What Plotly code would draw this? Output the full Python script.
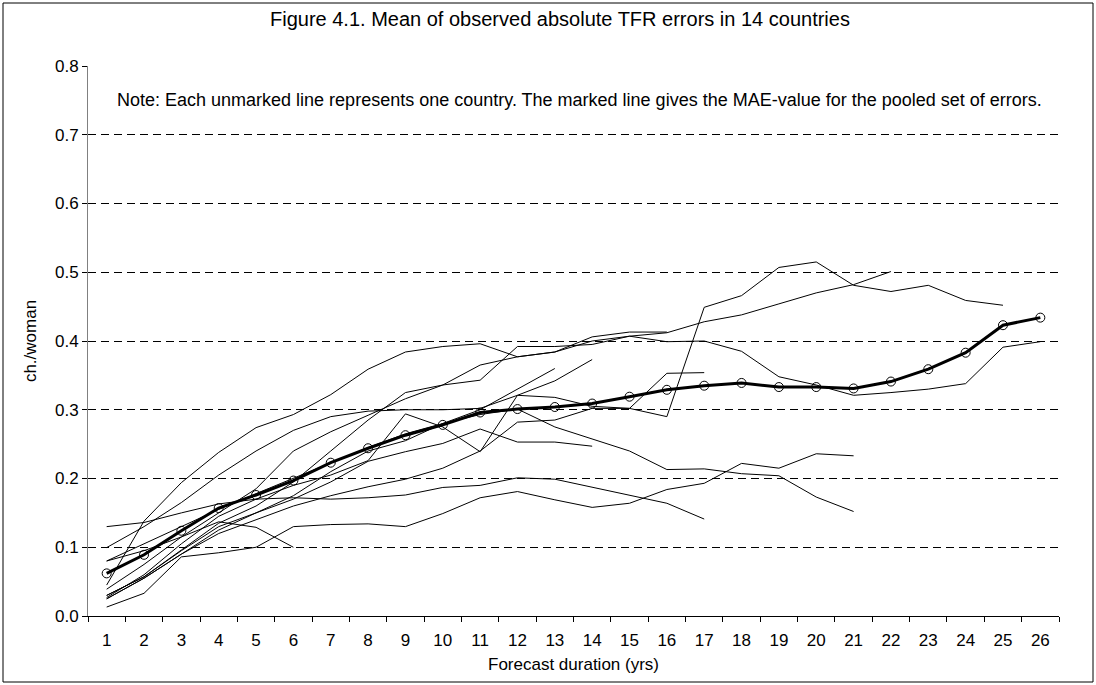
import plotly.graph_objects as go

# forecast duration (years)
durations = list(range(1, 27))

# pooled MAE (marked line)
mae = [0.062, 0.089, 0.124, 0.157, 0.176, 0.197, 0.223, 0.244, 0.263, 0.278, 0.296, 0.301,
       0.304, 0.309, 0.319, 0.329, 0.335, 0.339, 0.333, 0.333, 0.331, 0.341, 0.359, 0.383,
       0.423, 0.434]

# one unmarked line per country (series lengths differ)
country_a = [0.025, 0.055, 0.090, 0.120, 0.140, 0.160, 0.175, 0.188, 0.199, 0.215, 0.240, 0.282,
             0.285, 0.302, 0.302, 0.290, 0.449, 0.466, 0.507, 0.515, 0.481, 0.472, 0.481, 0.459, 0.452]
country_b = [0.030, 0.057, 0.096, 0.135, 0.160, 0.195, 0.240, 0.285, 0.325, 0.336, 0.343, 0.392,
             0.392, 0.395, 0.407, 0.412, 0.428, 0.438, 0.454, 0.470, 0.482, 0.501]
country_c = [0.039, 0.075, 0.115, 0.150, 0.185, 0.240, 0.268, 0.292, 0.316, 0.336, 0.365, 0.377,
             0.384, 0.400, 0.407, 0.399, 0.400, 0.385, 0.348, 0.336, 0.321, 0.325, 0.330, 0.338,
             0.391, 0.399]
country_d = [0.080, 0.105, 0.130, 0.155, 0.178, 0.200, 0.222, 0.245, 0.265, 0.280, 0.293, 0.301,
             0.275, 0.257, 0.240, 0.213, 0.214, 0.207, 0.204, 0.173, 0.152]
country_e = [0.013, 0.033, 0.086, 0.092, 0.100, 0.130, 0.133, 0.134, 0.130, 0.149, 0.172, 0.181,
             0.169, 0.158, 0.164, 0.184, 0.193, 0.222, 0.215, 0.236, 0.233]
country_f = [0.130, 0.136, 0.150, 0.163, 0.170, 0.172, 0.170, 0.172, 0.176, 0.187, 0.190, 0.201,
             0.199, 0.187, 0.176, 0.164, 0.141]
country_g = [0.030, 0.057, 0.095, 0.130, 0.150, 0.170, 0.195, 0.225, 0.239, 0.251, 0.272, 0.253,
             0.253, 0.247]
country_h = [0.025, 0.055, 0.090, 0.125, 0.150, 0.175, 0.210, 0.240, 0.255, 0.280, 0.300, 0.330,
             0.360]
country_i = [0.045, 0.138, 0.194, 0.238, 0.274, 0.293, 0.322, 0.359, 0.384, 0.392, 0.396, 0.377,
             0.384, 0.406, 0.413, 0.413]
country_j = [0.0995, 0.130, 0.165, 0.205, 0.240, 0.270, 0.290, 0.298, 0.300, 0.300, 0.302, 0.321,
             0.342, 0.373]
country_k = [0.027, 0.060, 0.105, 0.145, 0.170, 0.190, 0.205, 0.226, 0.294, 0.275, 0.239, 0.321,
             0.318, 0.305, 0.302, 0.353, 0.354]
country_l = [0.080, 0.095, 0.115, 0.137, 0.129, 0.100]

countries = [country_a, country_b, country_c, country_d, country_e, country_f,
             country_g, country_h, country_i, country_j, country_k, country_l]

yticks = [0.0, 0.1, 0.2, 0.3, 0.4, 0.5, 0.6, 0.7, 0.8]

FONT = "Liberation Sans, Arial, sans-serif"

fig = go.Figure()
for vals in countries:
    fig.add_trace(go.Scatter(x=durations[:len(vals)], y=vals, mode='lines',
                             line=dict(color='black', width=1), hoverinfo='skip'))

fig.add_trace(go.Scatter(x=durations, y=mae, mode='lines+markers',
                         line=dict(color='black', width=3),
                         marker=dict(symbol='circle-open', size=9, color='black',
                                     line=dict(width=1, color='black'))))

# plot area in pixels: x 88..1059, y 66..616
W, H = 1096, 685
L, R, T, B = 88, 37, 66, 69
pw, ph = W - L - R, H - T - B

def px(x):
    return (x - L) / pw

def py(y):
    return (H - B - y) / ph

fig.update_layout(
    width=W, height=H,
    margin=dict(l=L, r=R, t=T, b=B),
    paper_bgcolor='white', plot_bgcolor='white',
    showlegend=False,
    font=dict(family=FONT, size=17, color='black'),
    xaxis=dict(range=[0.5, 26.5], tickvals=durations, ticktext=[str(d) for d in durations],
               ticks='', showgrid=False, zeroline=False, ticklabelstandoff=9,
               showline=True, linecolor='black', linewidth=1,
               minor=dict(tickvals=[d + 0.5 for d in range(0, 27)], ticks='outside',
                          ticklen=5, tickcolor='black', showgrid=False),
               title=dict(text='Forecast duration (yrs)', font=dict(size=17), standoff=8),
               tickfont=dict(size=17)),
    yaxis=dict(range=[0, 0.8], tickvals=yticks, tickformat='.1f',
               ticks='outside', ticklen=5, tickcolor='black',
               showgrid=True, gridcolor='black', gridwidth=1, griddash='8px,5px',
               zeroline=False, showline=True, linecolor='#808080', linewidth=1,
               title=dict(text='ch./woman', font=dict(size=17), standoff=14),
               tickfont=dict(size=17)),
    annotations=[
        dict(text='Figure 4.1. Mean of observed absolute TFR errors in 14 countries',
             xref='paper', yref='paper', x=px(560), y=py(19),
             xanchor='center', yanchor='middle', showarrow=False, font=dict(size=20)),
        dict(text='Note: Each unmarked line represents one country. The marked line gives '
                  'the MAE-value for the pooled set of errors.',
             xref='paper', yref='paper', x=px(579), y=py(100),
             xanchor='center', yanchor='middle', showarrow=False, font=dict(size=18)),
    ],
    shapes=[dict(type='rect', xref='paper', yref='paper',
                 x0=px(3), x1=px(1093), y0=py(682), y1=py(3),
                 line=dict(color='black', width=1), layer='below')],
)

fig.write_html("out.html", config={'displayModeBar': False},
               post_script="document.body.style.margin='0';")
